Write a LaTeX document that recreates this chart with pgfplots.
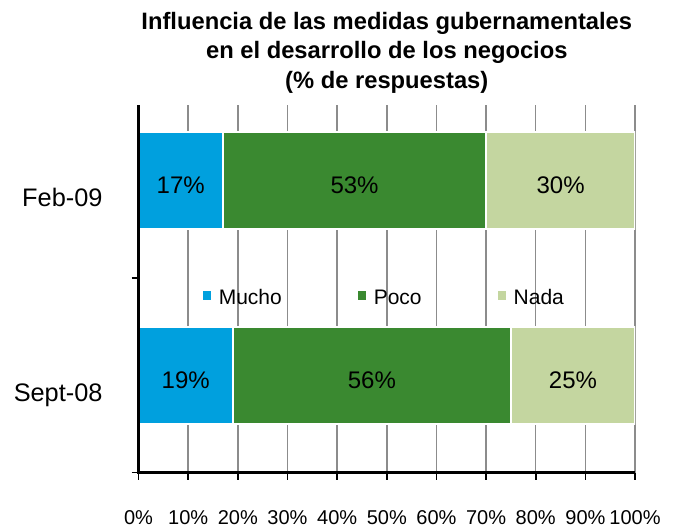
\documentclass[border=0pt]{standalone}
\usepackage{fontspec}
\setmainfont{Liberation Sans}
\usepackage{pgfplots}
\pgfplotsset{compat=1.18}
\definecolor{mucho}{RGB}{0,160,222}
\definecolor{poco}{RGB}{58,137,48}
\definecolor{nada}{RGB}{196,214,160}
\definecolor{gridgray}{RGB}{140,140,140}
\begin{document}
\begin{tikzpicture}
\useasboundingbox (-103.9pt,-41.6pt) rectangle (404.6pt,354.4pt);
\begin{axis}[
  at={(0,0)}, anchor=south west,
  scale only axis, width=372.4pt, height=275.6pt,
  xbar, bar shift=0pt, bar width=0.5,
  xmin=0, xmax=100, ymin=-0.5, ymax=1.39,
  axis lines*=left,
  axis line style={draw=black, line width=1.6pt},
  xtick={0,10,...,100},
  xticklabel={\pgfmathprintnumber{\tick}\%},
  xticklabel style={font=\fontsize{15}{18}\selectfont, anchor=base, yshift=-33.7pt},
  xmajorgrids, grid style={gridgray, line width=1.1pt},
  tick align=outside, major tick length=5.25pt,
  tick style={black, line width=1.3pt},
  ytick={-0.5,0.5}, yticklabels={},
  extra y ticks={0,1}, extra y tick labels={Sept-08,Feb-09},
  extra y tick style={major tick length=0pt},
  yticklabel style={font=\fontsize{19}{22}\selectfont, anchor=base east, xshift=-23.5pt, yshift=-19.3pt},
  /pgf/number format/assume math mode=true,
  title={Influencia de las medidas gubernamentales\\en el desarrollo de los negocios\\(\% de respuestas)},
  every axis title/.style={at={(0.5,1)}, anchor=south, inner sep=0pt, yshift=8.9pt, align=center, font=\bfseries\fontsize{17.8}{22.1}\selectfont},
  legend columns=3,
  legend style={at={(0.493,0.475)}, anchor=center, draw=none, fill=none,
    font=\fontsize{15.75}{18}\selectfont, nodes={inner sep=0pt},
    /tikz/every odd column/.append style={column sep=6pt},
    /tikz/every even column/.append style={column sep=57pt}},
]
% cumulative bars drawn from back to front
\addplot[fill=nada, draw=white, line width=1.5pt, forget plot] coordinates {(100,1) (100,0)};
\addplot[fill=poco, draw=white, line width=1.5pt, forget plot] coordinates {(70,1) (75,0)};
\addplot[fill=mucho, draw=white, line width=1.5pt, forget plot] coordinates {(17,1) (19,0)};
% value labels at segment centres
\addplot[draw=none, fill=none, forget plot, nodes near coords, point meta=explicit symbolic,
  every node near coord/.append style={anchor=center, yshift=-3.4pt, font=\fontsize{18}{21}\selectfont, text=black}]
  coordinates {(8.5,1) [17\%] (43.5,1) [53\%] (85,1) [30\%] (9.5,0) [19\%] (47,0) [56\%] (87.5,0) [25\%]};
\addlegendimage{legend image code/.code={\fill[mucho] (0pt,-0.8pt) rectangle (5.6pt,4.8pt);}}
\addlegendimage{legend image code/.code={\fill[poco] (0pt,-0.8pt) rectangle (5.6pt,4.8pt);}}
\addlegendimage{legend image code/.code={\fill[nada] (0pt,-0.8pt) rectangle (5.6pt,4.8pt);}}
\legend{Mucho,Poco,Nada}
\end{axis}
% left and bottom axis lines redrawn above the bars
\draw[black, line width=1.6pt] (current axis.north west) -- (current axis.south west) -- (current axis.south east);
\end{tikzpicture}
\end{document}
